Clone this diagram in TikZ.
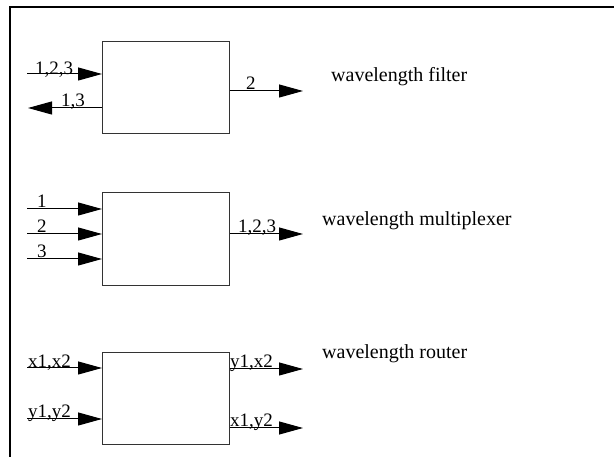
\documentclass[tikz,border=0pt]{standalone}
\usepackage{fontspec}
\setmainfont{Liberation Serif}
\usetikzlibrary{arrows.meta}
\begin{document}
\begin{tikzpicture}[x=1pt,y=-1pt,
  blk/.style={draw=black!80, line width=1pt, minimum width=127pt, minimum height=92pt, inner sep=0pt, anchor=north west},
  arr/.style={line width=1pt, -{Triangle[length=24pt,width=13pt]}},
  lbl/.style={anchor=base west, inner sep=0pt, font=\fontsize{19}{19}\selectfont},
  ttl/.style={anchor=base west, inner sep=0pt, font=\fontsize{20}{20}\selectfont},
  frame/.style={line width=1.2pt}]
\useasboundingbox (0,0) rectangle (614,457);
% frame
\coordinate (fbl) at (10,457);
\coordinate (ftl) at (10,7);
\coordinate (ftr) at (614,7);
\draw[frame] (fbl) -- (ftl) -- (ftr);
% blocks
\node[blk] (f) at (102,41) {};
\node[blk, minimum height=93pt] (m) at (102,192) {};
\node[blk] (r) at (102,352) {};
% filter
\coordinate (fi) at (27,74);
\coordinate (fo13) at (28,108);
\coordinate (fo2) at (303,91);
\draw[arr] (fi) -- (fi -| f.west);
\draw[arr] (fo13 -| f.west) -- (fo13);
\draw[arr] (fo2 -| f.east) -- (fo2);
\node[lbl] (lfi) at (35,75) {1,2,3};
\node[lbl] (lfo13) at (61,107) {1,3};
\node[lbl] (lfo2) at (246,90) {2};
\node[ttl] (tf) at (331,82) {wavelength filter};
% multiplexer
\coordinate (mi1) at (27,209);
\coordinate (mi2) at (27,234);
\coordinate (mi3) at (27,259);
\coordinate (mo) at (303,234);
\draw[arr] (mi1) -- (mi1 -| m.west);
\draw[arr] (mi2) -- (mi2 -| m.west);
\draw[arr] (mi3) -- (mi3 -| m.west);
\draw[arr] (mo -| m.east) -- (mo);
\node[lbl] (lmi1) at (37,208) {1};
\node[lbl] (lmi2) at (37,233) {2};
\node[lbl] (lmi3) at (37,258) {3};
\node[lbl] (lmo) at (238,233) {1,2,3};
\node[ttl] (tm) at (322,226) {wavelength multiplexer};
% router
\coordinate (ri1) at (27,368);
\coordinate (ri2) at (27,419);
\coordinate (ro1) at (303,369);
\coordinate (ro2) at (303,428);
\draw[arr] (ri1) -- (ri1 -| r.west);
\draw[arr] (ri2) -- (ri2 -| r.west);
\draw[arr] (ro1 -| r.east) -- (ro1);
\draw[arr] (ro2 -| r.east) -- (ro2);
\node[lbl] (lri1) at (28,368) {x1,x2};
\node[lbl] (lri2) at (28,418) {y1,y2};
\node[lbl] (lro1) at (230,368) {y1,x2};
\node[lbl] (lro2) at (230,427) {x1,y2};
\node[ttl] (tr) at (322,359) {wavelength router};
\end{tikzpicture}
\end{document}
